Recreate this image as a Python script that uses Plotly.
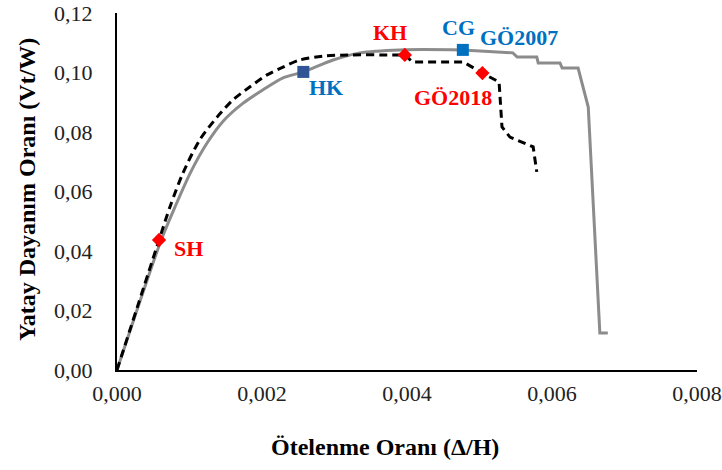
import plotly.graph_objects as go

# GÖ2007 envelope (solid grey)
drift_go2007 = [0, 0.00061, 0.00080, 0.00101, 0.00124, 0.00147, 0.00174, 0.00201,
                0.00229, 0.00257, 0.00298, 0.00335, 0.00390, 0.00477, 0.00546,
                0.00552, 0.00579, 0.00581, 0.00611, 0.00614, 0.00636, 0.00650,
                0.00666, 0.00677]
ratio_go2007 = [0, 0.0437, 0.0548, 0.0662, 0.0762, 0.0838, 0.0897, 0.0941,
                0.0982, 0.1002, 0.1042, 0.1066, 0.1076, 0.1076, 0.1066,
                0.1052, 0.1052, 0.1032, 0.1032, 0.1015, 0.1015, 0.0884,
                0.0124, 0.0124]
smooth_end_2007 = 14   # points up to here follow a smooth curve, the rest are steps

# GÖ2018 envelope (dashed black)
drift_go2018 = [0, 0.00058, 0.00073, 0.00091, 0.00114, 0.00138, 0.00160, 0.00183,
                0.00207, 0.00229, 0.00252, 0.00284, 0.00321, 0.00381, 0.00397,
                0.00408, 0.00478, 0.00492, 0.00504, 0.00527, 0.00531, 0.00542,
                0.00574, 0.00579]
ratio_go2018 = [0, 0.0437, 0.0548, 0.0662, 0.0773, 0.0850, 0.0908, 0.0951,
                0.0992, 0.1018, 0.1042, 0.1055, 0.1059, 0.1059, 0.1059,
                0.1035, 0.1035, 0.1015, 0.0998, 0.0968, 0.0817, 0.0783,
                0.0750, 0.0666]
smooth_end_2018 = 15

# Performance levels (red diamonds) on GÖ2018
red_labels = ["SH", "KH", "GÖ2018"]
red_drift = [0.00058, 0.00397, 0.00504]
red_ratio = [0.0437, 0.1059, 0.0998]
red_shift = [(13, -9, "left"), (-15, 22, "center"), (-29, -24, "center")]

# Performance levels (blue squares) on GÖ2007
blue_labels = ["HK", "CG"]
blue_drift = [0.00257, 0.00477]
blue_ratio = [0.1002, 0.1076]
blue_marker_colors = ["#2F5597", "#0070C0"]
blue_shift = [(23, -16, "center"), (-4, 22, "center")]

x_ticks = [0, 0.002, 0.004, 0.006, 0.008]
y_ticks = [0, 0.02, 0.04, 0.06, 0.08, 0.10, 0.12]

RED = "#FF0000"
BLUE = "#0070C0"
SERIF = "Liberation Serif, Times New Roman, serif"

fig = go.Figure()
grey_line = dict(color="#8C8C8C", width=3)
dash_line = dict(color="#000000", width=3, dash="8px,5px")

fig.add_trace(go.Scatter(x=drift_go2007[:smooth_end_2007], y=ratio_go2007[:smooth_end_2007],
                         mode="lines", line=dict(grey_line, shape="spline", smoothing=0.8),
                         showlegend=False))
fig.add_trace(go.Scatter(x=drift_go2007[smooth_end_2007 - 1:], y=ratio_go2007[smooth_end_2007 - 1:],
                         mode="lines", line=grey_line, showlegend=False))
fig.add_trace(go.Scatter(x=drift_go2018[:smooth_end_2018], y=ratio_go2018[:smooth_end_2018],
                         mode="lines", line=dict(dash_line, shape="spline", smoothing=0.8),
                         showlegend=False))
fig.add_trace(go.Scatter(x=drift_go2018[smooth_end_2018 - 1:], y=ratio_go2018[smooth_end_2018 - 1:],
                         mode="lines", line=dash_line, showlegend=False))
fig.add_trace(go.Scatter(x=red_drift, y=red_ratio, mode="markers",
                         marker=dict(symbol="diamond", size=11, color=RED),
                         showlegend=False))
fig.add_trace(go.Scatter(x=blue_drift, y=blue_ratio, mode="markers",
                         marker=dict(symbol="square", size=12, color=blue_marker_colors),
                         showlegend=False))

annotations = []
for lab, xv, yv, (dx, dy, anc) in zip(red_labels, red_drift, red_ratio, red_shift):
    annotations.append(dict(x=xv, y=yv, text=f"<b>{lab}</b>", showarrow=False,
                            xshift=dx, yshift=dy, xanchor=anc, yanchor="middle",
                            font=dict(family=SERIF, size=22, color=RED)))
for lab, xv, yv, (dx, dy, anc) in zip(blue_labels, blue_drift, blue_ratio, blue_shift):
    annotations.append(dict(x=xv, y=yv, text=f"<b>{lab}</b>", showarrow=False,
                            xshift=dx, yshift=dy, xanchor=anc, yanchor="middle",
                            font=dict(family=SERIF, size=22, color=BLUE)))
# GÖ2007 label next to the CG point
annotations.append(dict(x=blue_drift[1], y=blue_ratio[1], text="<b>GÖ2007</b>",
                        showarrow=False, xshift=56, yshift=12, xanchor="center",
                        yanchor="middle", font=dict(family=SERIF, size=22, color=BLUE)))

# Axis titles
annotations.append(dict(xref="paper", yref="paper", x=(385 - 117) / 580, y=0,
                        yshift=-77, xanchor="center", yanchor="middle", showarrow=False,
                        text="<b>Ötelenme Oranı (Δ/H)</b>",
                        font=dict(family=SERIF, size=24, color="#000000")))
annotations.append(dict(xref="paper", yref="paper", x=0, y=(370 - 190) / 357,
                        xshift=-90, xanchor="center", yanchor="middle", showarrow=False,
                        textangle=-90, text="<b>Yatay Dayanım Oranı (Vt/W)</b>",
                        font=dict(family=SERIF, size=24, color="#000000")))

fig.update_layout(
    width=722, height=470,
    margin=dict(l=117, r=25, t=13, b=100, autoexpand=False),
    paper_bgcolor="white", plot_bgcolor="white",
    separators=",.",
    font=dict(family=SERIF, size=22, color="#222222"),
    annotations=annotations,
)
fig.update_xaxes(range=[0, 0.008], tickvals=x_ticks, tickformat=".3f",
                 showline=True, linecolor="#000000", linewidth=2, automargin=False,
                 ticklabeloverflow="allow",
                 showgrid=False, zeroline=False, ticks="", ticklabelstandoff=3)
fig.update_yaxes(range=[0, 0.12], tickvals=y_ticks, tickformat=".2f",
                 showline=True, linecolor="#000000", linewidth=2, automargin=False,
                 ticklabeloverflow="allow",
                 showgrid=False, zeroline=False, ticks="", ticklabelstandoff=18)

fig.write_html("out.html")
